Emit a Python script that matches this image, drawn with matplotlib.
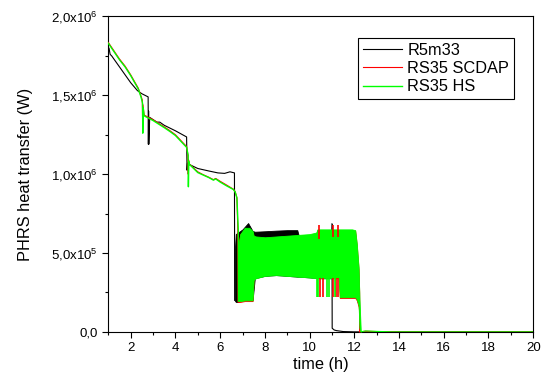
import matplotlib
matplotlib.use("Agg")
import matplotlib.pyplot as plt

plt.rcParams['font.family'] = ['Liberation Sans', 'DejaVu Sans']
plt.rcParams['mathtext.fontset'] = 'custom'
plt.rcParams['mathtext.rm'] = 'Liberation Sans'
plt.rcParams['mathtext.it'] = 'Liberation Sans:italic'
plt.rcParams['mathtext.bf'] = 'Liberation Sans:bold'

# ---------------- data ----------------
# R5m33 (black): smooth part
black_t = [1.0, 1.03, 1.08, 1.15, 1.5, 2.0, 2.3, 2.5, 2.78, 2.79, 2.8, 2.81, 2.85, 3.17,
           3.3, 3.5, 4.0, 4.5, 4.52, 4.54, 4.6, 5.0, 5.5, 5.9, 6.2, 6.44, 6.64, 6.65]
black_p = [1.78e6, 1.80e6, 1.76e6, 1.75e6, 1.68e6, 1.58e6, 1.53e6, 1.51e6, 1.49e6, 1.19e6,
           1.40e6, 1.19e6, 1.36e6, 1.33e6, 1.33e6, 1.31e6, 1.275e6, 1.236e6, 1.025e6, 1.07e6,
           1.063e6, 1.036e6, 1.02e6, 1.008e6, 1.005e6, 1.015e6, 1.008e6, 2.0e5]
# R5m33 oscillating band (envelope)
black_band_t = [6.65, 6.7, 6.8, 7.0, 7.25, 7.45, 7.55, 8.0, 8.5, 9.0, 9.45, 9.55, 10.0, 10.5, 10.95, 11.0]
black_band_lo = [2.0e5, 1.9e5, 1.9e5, 2.0e5, 2.0e5, 2.0e5, 3.4e5, 3.55e5, 3.6e5, 3.55e5, 3.5e5,
                 3.5e5, 3.45e5, 3.4e5, 3.4e5, 3.4e5]
black_band_hi = [5.0e5, 6.2e5, 6.3e5, 6.5e5, 6.9e5, 6.4e5, 6.35e5, 6.38e5, 6.42e5, 6.45e5, 6.45e5,
                 5.9e5, 5.9e5, 5.9e5, 6.0e5, 6.85e5]
# R5m33 tail
black_tail_t = [11.0, 11.01, 11.1, 11.2, 11.5, 12.0, 20.0]
black_tail_p = [6.85e5, 2.3e4, 1.2e4, 8e3, 2e3, 0.0, 0.0]

# RS35 SCDAP (red): smooth part
red_t = [1.0, 1.5, 1.75, 2.0, 2.34, 2.46, 2.52, 2.53, 2.55, 2.6, 3.0, 3.5, 3.76, 4.0, 4.5,
         4.56, 4.57, 4.59, 4.62, 5.0, 5.25, 5.5, 5.7, 5.8, 6.0, 6.3, 6.59, 6.67, 6.75, 6.79, 6.8]
red_p = [1.835e6, 1.73e6, 1.685e6, 1.63e6, 1.545e6, 1.495e6, 1.47e6, 1.36e6, 1.44e6, 1.375e6,
         1.345e6, 1.30e6, 1.275e6, 1.25e6, 1.175e6, 1.12e6, 1.0e6, 1.09e6, 1.065e6, 1.015e6,
         9.96e5, 9.8e5, 9.65e5, 9.73e5, 9.55e5, 9.3e5, 9.05e5, 8.9e5, 8.5e5, 6.5e5, 1.9e5]
red_band_t = [6.8, 6.9, 7.1, 7.3, 7.45, 7.5, 7.6, 8.0, 8.5, 9.0, 9.5, 10.0, 10.3, 10.35, 11.3,
              11.35, 11.9, 12.04, 12.11, 12.19, 12.22, 12.23]
red_band_lo = [1.9e5, 1.9e5, 1.95e5, 1.95e5, 1.95e5, 3.4e5, 3.5e5, 3.65e5, 3.7e5, 3.65e5, 3.6e5,
               3.55e5, 3.5e5, 3.5e5, 3.5e5, 2.15e5, 2.15e5, 2.15e5, 2.0e5, 1.6e5, 1.2e5, 0.0]
red_band_hi = [5.5e5, 6.2e5, 6.5e5, 6.5e5, 6.3e5, 6.05e5, 6.0e5, 5.95e5, 6.0e5, 6.05e5, 6.1e5,
               6.15e5, 6.25e5, 6.45e5, 6.45e5, 6.45e5, 6.45e5, 6.4e5, 5.5e5, 4.0e5, 2.5e5, 0.0]
red_tail_t = [12.23, 12.5, 13.0, 14.0, 20.0]
red_tail_p = [0.0, 4e3, 2e3, 0.0, 0.0]
# red spikes in the band: (time, low, high)
red_spike_t = [10.42, 10.47, 10.62, 11.04, 11.05, 11.2, 11.25, 11.27]
red_spike_lo = [5.9e5, 2.2e5, 2.2e5, 2.2e5, 6.0e5, 2.2e5, 2.2e5, 6.0e5]
red_spike_hi = [6.75e5, 3.4e5, 3.4e5, 3.4e5, 6.75e5, 3.4e5, 3.4e5, 6.75e5]

# RS35 HS (green): smooth part
green_t = [1.0, 1.5, 1.75, 2.0, 2.34, 2.46, 2.53, 2.54, 2.56, 2.6, 3.0, 3.5, 3.76, 4.0, 4.5,
           4.57, 4.58, 4.6, 4.62, 5.0, 5.25, 5.5, 5.7, 5.8, 6.0, 6.3, 6.59, 6.67, 6.75, 6.81, 6.82]
green_p = [1.83e6, 1.725e6, 1.68e6, 1.625e6, 1.54e6, 1.49e6, 1.45e6, 1.26e6, 1.42e6, 1.37e6,
           1.34e6, 1.295e6, 1.27e6, 1.245e6, 1.17e6, 1.12e6, 9.2e5, 1.08e6, 1.063e6, 1.01e6,
           9.94e5, 9.78e5, 9.62e5, 9.7e5, 9.5e5, 9.25e5, 9.03e5, 8.88e5, 8.5e5, 6.5e5, 1.95e5]
green_band_t = [6.82, 6.9, 7.1, 7.3, 7.45, 7.5, 7.6, 8.0, 8.5, 9.0, 9.5, 10.0, 10.3, 10.35, 11.3,
                11.35, 11.9, 12.04, 12.11, 12.19, 12.23, 12.29]
green_band_lo = [1.95e5, 1.95e5, 2.0e5, 2.0e5, 2.0e5, 3.3e5, 3.4e5, 3.55e5, 3.6e5, 3.55e5, 3.5e5,
                 3.45e5, 3.4e5, 3.4e5, 3.4e5, 2.2e5, 2.2e5, 2.2e5, 2.07e5, 1.7e5, 2.5e4, 0.0]
green_band_hi = [5.5e5, 6.2e5, 6.6e5, 6.6e5, 6.4e5, 6.1e5, 6.05e5, 6.0e5, 6.05e5, 6.1e5, 6.15e5,
                 6.2e5, 6.3e5, 6.5e5, 6.5e5, 6.5e5, 6.5e5, 6.45e5, 5.6e5, 4.1e5, 2.1e5, 0.0]
green_tail_t = [12.29, 12.5, 13.0, 13.7, 20.0]
green_tail_p = [0.0, 6e3, 3e3, 0.0, 0.0]
green_spike_t = [10.32, 10.36, 10.8, 10.85, 11.12]
green_spike_lo = [2.2e5, 2.2e5, 2.2e5, 2.2e5, 2.2e5]
green_spike_hi = [3.4e5, 3.4e5, 3.4e5, 3.4e5, 3.4e5]

series_labels = ['R5m33', 'RS35 SCDAP', 'RS35 HS']
x_ticks = [2, 4, 6, 8, 10, 12, 14, 16, 18, 20]
y_ticks = [0, 5e5, 1e6, 1.5e6, 2e6]
y_tick_labels = ['0,0', r'5,0x10$^{5}$', r'1,0x10$^{6}$', r'1,5x10$^{6}$', r'2,0x10$^{6}$']

# ---------------- plotting ----------------
BLACK = '#000000'
RED = '#ff0000'
GREEN = '#00ff00'
lw = 0.8

fig = plt.figure(figsize=(5.43, 3.83), dpi=100)
ax = fig.add_axes([0.1995, 0.1335, 0.7825, 0.8235])

# black
ax.plot(black_t, black_p, color=BLACK, lw=lw, label=series_labels[0], zorder=2)
ax.fill_between(black_band_t, black_band_lo, black_band_hi, color=BLACK, lw=0.6, zorder=2)
ax.plot(black_tail_t, black_tail_p, color=BLACK, lw=lw, zorder=2)
# red
ax.plot(red_t, red_p, color=RED, lw=lw, label=series_labels[1], zorder=3)
ax.fill_between(red_band_t, red_band_lo, red_band_hi, color=RED, lw=0.6, zorder=3)
ax.plot(red_tail_t, red_tail_p, color=RED, lw=lw, zorder=3)
# green
ax.plot(green_t, green_p, color=GREEN, lw=1.0, label=series_labels[2], zorder=4)
ax.fill_between(green_band_t, green_band_lo, green_band_hi, color=GREEN, lw=0.6, zorder=4)
ax.plot(green_tail_t, green_tail_p, color=GREEN, lw=lw, zorder=4)
# spikes on top of green band
ax.vlines(red_spike_t, red_spike_lo, red_spike_hi, colors=RED, lw=1.2, zorder=5)
ax.vlines(green_spike_t, green_spike_lo, green_spike_hi, colors=GREEN, lw=1.2, zorder=5)

ax.set_xlim(1, 20)
ax.set_ylim(0, 2e6)
ax.set_xticks(x_ticks)
ax.set_xticks(list(range(1, 20, 2)), minor=True)
ax.set_yticks(y_ticks)
ax.set_yticklabels(y_tick_labels)
ax.set_yticks([2.5e5, 7.5e5, 1.25e6, 1.75e6], minor=True)
ax.tick_params(axis='both', which='major', direction='out', length=4, width=0.8,
               labelsize=9.5, top=False, right=False)
ax.tick_params(axis='both', which='minor', direction='out', length=2.5, width=0.8,
               top=False, right=False)
for sp in ax.spines.values():
    sp.set_linewidth(0.8)

ax.set_xlabel('time (h)', fontsize=11.8, labelpad=2)
ax.set_ylabel('PHRS heat transfer (W)', fontsize=11.8, labelpad=13)

leg = ax.legend(loc='upper right', bbox_to_anchor=(0.955, 0.932), fontsize=11.8,
                frameon=True, fancybox=False, edgecolor='black', framealpha=1,
                handlelength=2.4, handletextpad=0.3, labelspacing=0.2, borderpad=0.3,
                borderaxespad=0)
leg.get_frame().set_linewidth(0.8)

fig.savefig('out.png', dpi=100)
